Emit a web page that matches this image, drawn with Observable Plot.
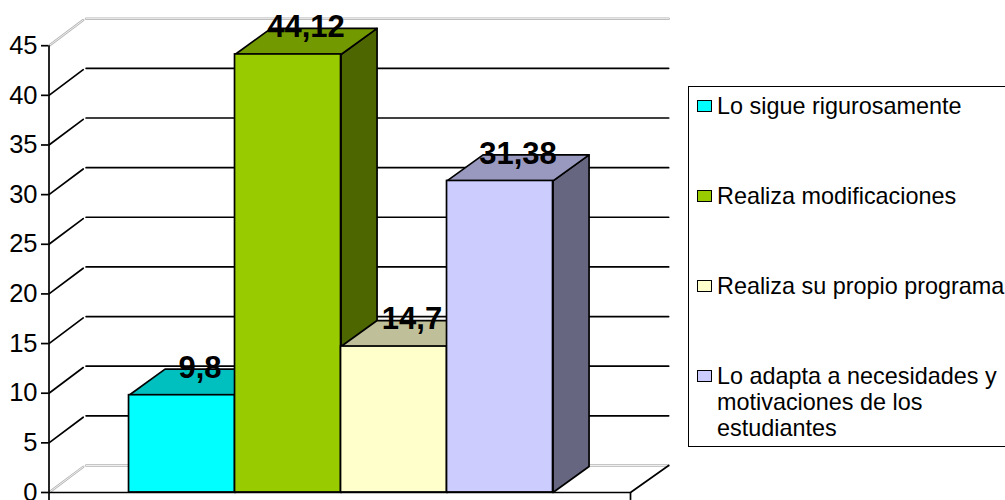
<!DOCTYPE html>
<html lang="es">
<head>
<meta charset="utf-8">
<script src="https://cdn.jsdelivr.net/npm/d3@7"></script>
<script src="https://cdn.jsdelivr.net/npm/@observablehq/plot@0.6"></script>
<style>
  html, body { margin: 0; padding: 0; background: #fff; overflow: hidden; }
  #chart { position: relative; width: 1005px; height: 500px; overflow: hidden; font-family: "Liberation Sans", Arial, sans-serif; }
  #chart svg { display: block; }
  .legend { position: absolute; left: 688px; top: 86px; width: 330px; height: 359px; border: 1.5px solid #000; background: #fff; box-sizing: content-box; }
  .legend-item { position: absolute; left: 8px; font-size: 23.4px; line-height: 26px; color: #000; width: 297px; padding-left: 20px; white-space: normal; }
  .legend-item i { position: absolute; left: 0; top: 7px; width: 13px; height: 10px; border: 1.5px solid #000; }
</style>
</head>
<body>
<div id="chart"></div>
<script>
// Survey answers: how teachers use the programme (percentages)
const categories = [
  "Lo sigue rigurosamente",
  "Realiza modificaciones",
  "Realiza su propio programa",
  "Lo adapta a necesidades y motivaciones de los estudiantes"
];
const values = [9.8, 44.12, 14.7, 31.38];
const valueLabels = ["9,8", "44,12", "14,7", "31,38"];
const frontColors = ["#00FFFF", "#99CC00", "#FFFFCC", "#CCCCFF"];
const topColors = ["#00BFBF", "#739900", "#BFBF99", "#9999BF"];
const sideColors = ["#008080", "#4D6600", "#808066", "#666680"];
const yTicks = [0, 5, 10, 15, 20, 25, 30, 35, 40, 45];
const legendTops = [6, 96, 186, 276];

// Oblique depth of the fake 3D box, in scale units
const barDepthX = 0.34, barDepthY = 2.62;
const wallDepthX = 0.34, wallDepthY = 2.72;
const xMin = -0.755, xMax = 4.731;

const face = (pts, fill) => Plot.line(
  pts.map(([x, y]) => ({x, y})),
  {x: "x", y: "y", fill, stroke: "#000", strokeWidth: 1.7, curve: "linear-closed", strokeLinejoin: "round"}
);

// Pieces of one horizontal gridline: slanted part on the side wall, flat part on the back wall
const gridPaths = v => [
  [[xMin, v], [xMin + wallDepthX * 0.95, v + wallDepthY * 0.95]],
  [[xMin + wallDepthX + 0.01, v + wallDepthY], [xMax + wallDepthX + 0.02, v + wallDepthY]]
];
const gridMarks = v => gridPaths(v).flatMap(path => {
  const pts = path.map(([x, y]) => ({x, y}));
  return (v === 0 || v === 45)
    ? [Plot.line(pts, {x: "x", y: "y", stroke: "#b4b4b4", strokeWidth: 2.4}),
       Plot.line(pts, {x: "x", y: "y", stroke: "#fff", strokeWidth: 0.8})]
    : [Plot.line(pts, {x: "x", y: "y", stroke: "#000", strokeWidth: 1.7})];
});

const barMarks = values.flatMap((v, i) => {
  const x1 = i, x2 = i + 1, dx = barDepthX, dy = barDepthY;
  return [
    face([[x2, 0], [x2 + dx, dy], [x2 + dx, v + dy], [x2, v]], sideColors[i]),
    face([[x1, v], [x1 + dx, v + dy], [x2 + dx, v + dy], [x2, v]], topColors[i]),
    Plot.rect([{x1, x2, y1: 0, y2: v}], {x1: "x1", x2: "x2", y1: "y1", y2: "y2", fill: frontColors[i], stroke: "#000", strokeWidth: 1.7})
  ];
});

// Value labels sit over the back edge of each bar's top face
const labelData = values.map((v, i) => ({
  x: i + 0.5 + barDepthX / 2,
  y: v + barDepthY,
  text: valueLabels[i]
}));

const chart = Plot.plot({
  width: 1005,
  height: 500,
  marginLeft: 48,
  marginRight: 375,
  marginTop: 45,
  marginBottom: 8,
  style: {background: "#fff", fontFamily: "'Liberation Sans', Arial, sans-serif", overflow: "visible"},
  x: {domain: [xMin, xMax], range: [48.5, 630], axis: null},
  y: {domain: [0, 45], range: [492, 45.2], axis: null},
  marks: [
    ...yTicks.flatMap(gridMarks),
    // Floor edge on the right, with the short tick under its corner
    Plot.line([{x: xMax, y: 0}, {x: xMax + wallDepthX + 0.02, y: wallDepthY}], {x: "x", y: "y", stroke: "#000", strokeWidth: 1.7}),
    Plot.ruleX([xMax], {y1: 0, y2: -0.8, stroke: "#000", strokeWidth: 1.7}),
    ...barMarks,
    // Front edge of the floor and the value axis
    Plot.ruleY([0], {x1: xMin, x2: xMax, stroke: "#000", strokeWidth: 1.7}),
    Plot.ruleX([xMin], {y1: -0.8, y2: 45, stroke: "#000", strokeWidth: 1.7}),
    Plot.axisY({
      anchor: "left",
      ticks: yTicks,
      tickSize: 7,
      tickPadding: 4,
      fontSize: 25.5,
      strokeWidth: 1.7,
      stroke: "#000",
      fill: "#000",
      label: null
    }),
    Plot.text(labelData, {
      x: "x", y: "y", text: "text", dy: -1,
      fontSize: 31, fontWeight: "bold", fill: "#000",
      textAnchor: "middle", lineAnchor: "middle"
    })
  ]
});

const root = document.getElementById("chart");
root.appendChild(chart);

// Legend box to the right of the plot
const legend = d3.select(root).append("div").attr("class", "legend");
categories.forEach((name, i) => {
  const item = legend.append("div").attr("class", "legend-item").style("top", legendTops[i] + "px");
  item.append("i").style("background", frontColors[i]);
  item.append("span").text(name);
});
</script>
</body>
</html>
